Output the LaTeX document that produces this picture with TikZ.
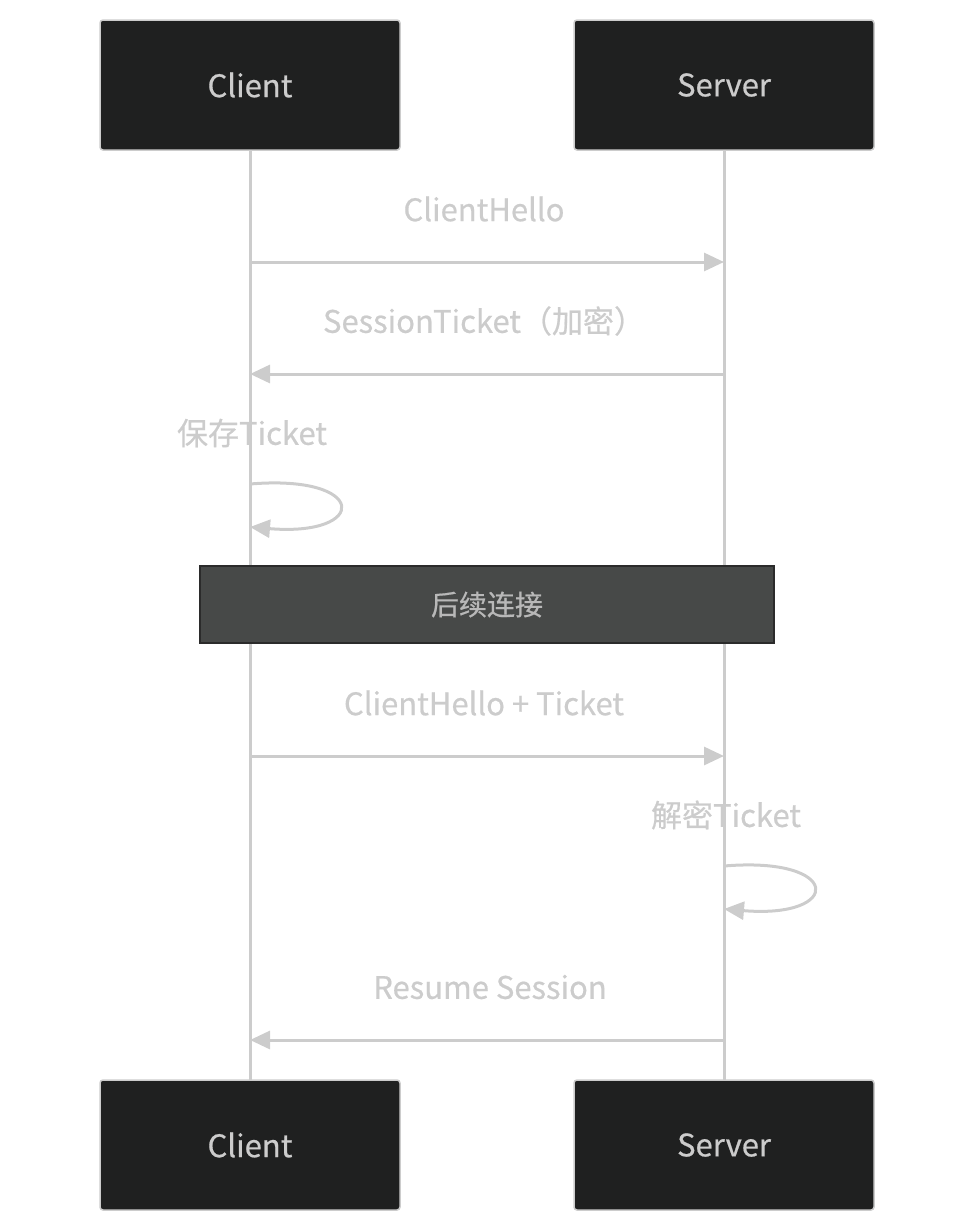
\documentclass[tikz,border=0pt]{standalone}
\usepackage{fontspec}
\setmainfont{Noto Sans CJK SC}[FakeBold=0.6]
\usetikzlibrary{arrows.meta}
\definecolor{lineGray}{HTML}{CCCCCC}
\definecolor{actorFill}{HTML}{1F2020}
\definecolor{noteFill}{HTML}{474948}
\definecolor{noteLine}{HTML}{2B2B2B}
\tikzset{
  actor/.style={draw=lineGray, line width=1.5pt, fill=actorFill, rounded corners=3pt,
    minimum width=300pt, minimum height=130pt, text=lineGray, font=\fontsize{31}{37}\selectfont},
  lifeline/.style={draw=lineGray, line width=3pt},
  msg/.style={draw=lineGray, line width=3pt, -{Triangle[length=20pt,width=18pt]}},
  msgtext/.style={text=lineGray, font=\fontsize{31}{37}\selectfont, inner sep=0pt},
  notebox/.style={draw=noteLine, line width=1.5pt, fill=noteFill, minimum width=574pt,
    minimum height=77pt, text=lineGray!90!black, font=\fontsize{28}{34}\selectfont}
}
\begin{document}
\begin{tikzpicture}[x=1pt, y=-1pt]
    \useasboundingbox (0,0) rectangle (976,1232);
    % lifelines
        \coordinate (cTopEnd) at (250,150);
        \coordinate (cBotEnd) at (250,1080);
        \coordinate (sTopEnd) at (724,150);
        \coordinate (sBotEnd) at (724,1080);
        \draw[lifeline] (cTopEnd) -- (cBotEnd);
        \draw[lifeline] (sTopEnd) -- (sBotEnd);
    % actors
        \foreach \n/\x/\y/\t in {cTop/250/85/Client, sTop/724/85/Server, cBot/250/1145/Client, sBot/724/1145/Server}{
            \node[actor] (\n) at (\x,\y) {\t};
        }
    % messages
        \foreach \i/\y/\from/\to in {1/262/250/724, 2/374/724/250, 3/756/250/724, 4/1040/724/250}{
            \coordinate (a\i) at (\from,\y);
            \coordinate (b\i) at (\to,\y);
            \draw[msg] (a\i) -- (b\i);
        }
        \node[msgtext] (t1) at (484,209) {ClientHello};
        \node[msgtext] (t2) at (484,321) {SessionTicket（加密）};
        \node[msgtext] (t3) at (484,703) {ClientHello + Ticket};
        \node[msgtext] (t4) at (490,987) {Resume Session};
    % self messages
        \coordinate (cLoopA) at (250,484);
        \coordinate (cLoopB) at (250,527);
        \draw[msg] (cLoopA) .. controls (369,474) and (369,537) .. (cLoopB);
        \node[msgtext] (t5) at (252,433) {保存Ticket};
        \coordinate (sLoopA) at (724,866);
        \coordinate (sLoopB) at (724,909);
        \draw[msg] (sLoopA) .. controls (843,856) and (843,919) .. (sLoopB);
        \node[msgtext] (t6) at (726,815) {解密Ticket};
    % note
        \node[notebox] (later) at (487,604.5) {后续连接};
\end{tikzpicture}
\end{document}
